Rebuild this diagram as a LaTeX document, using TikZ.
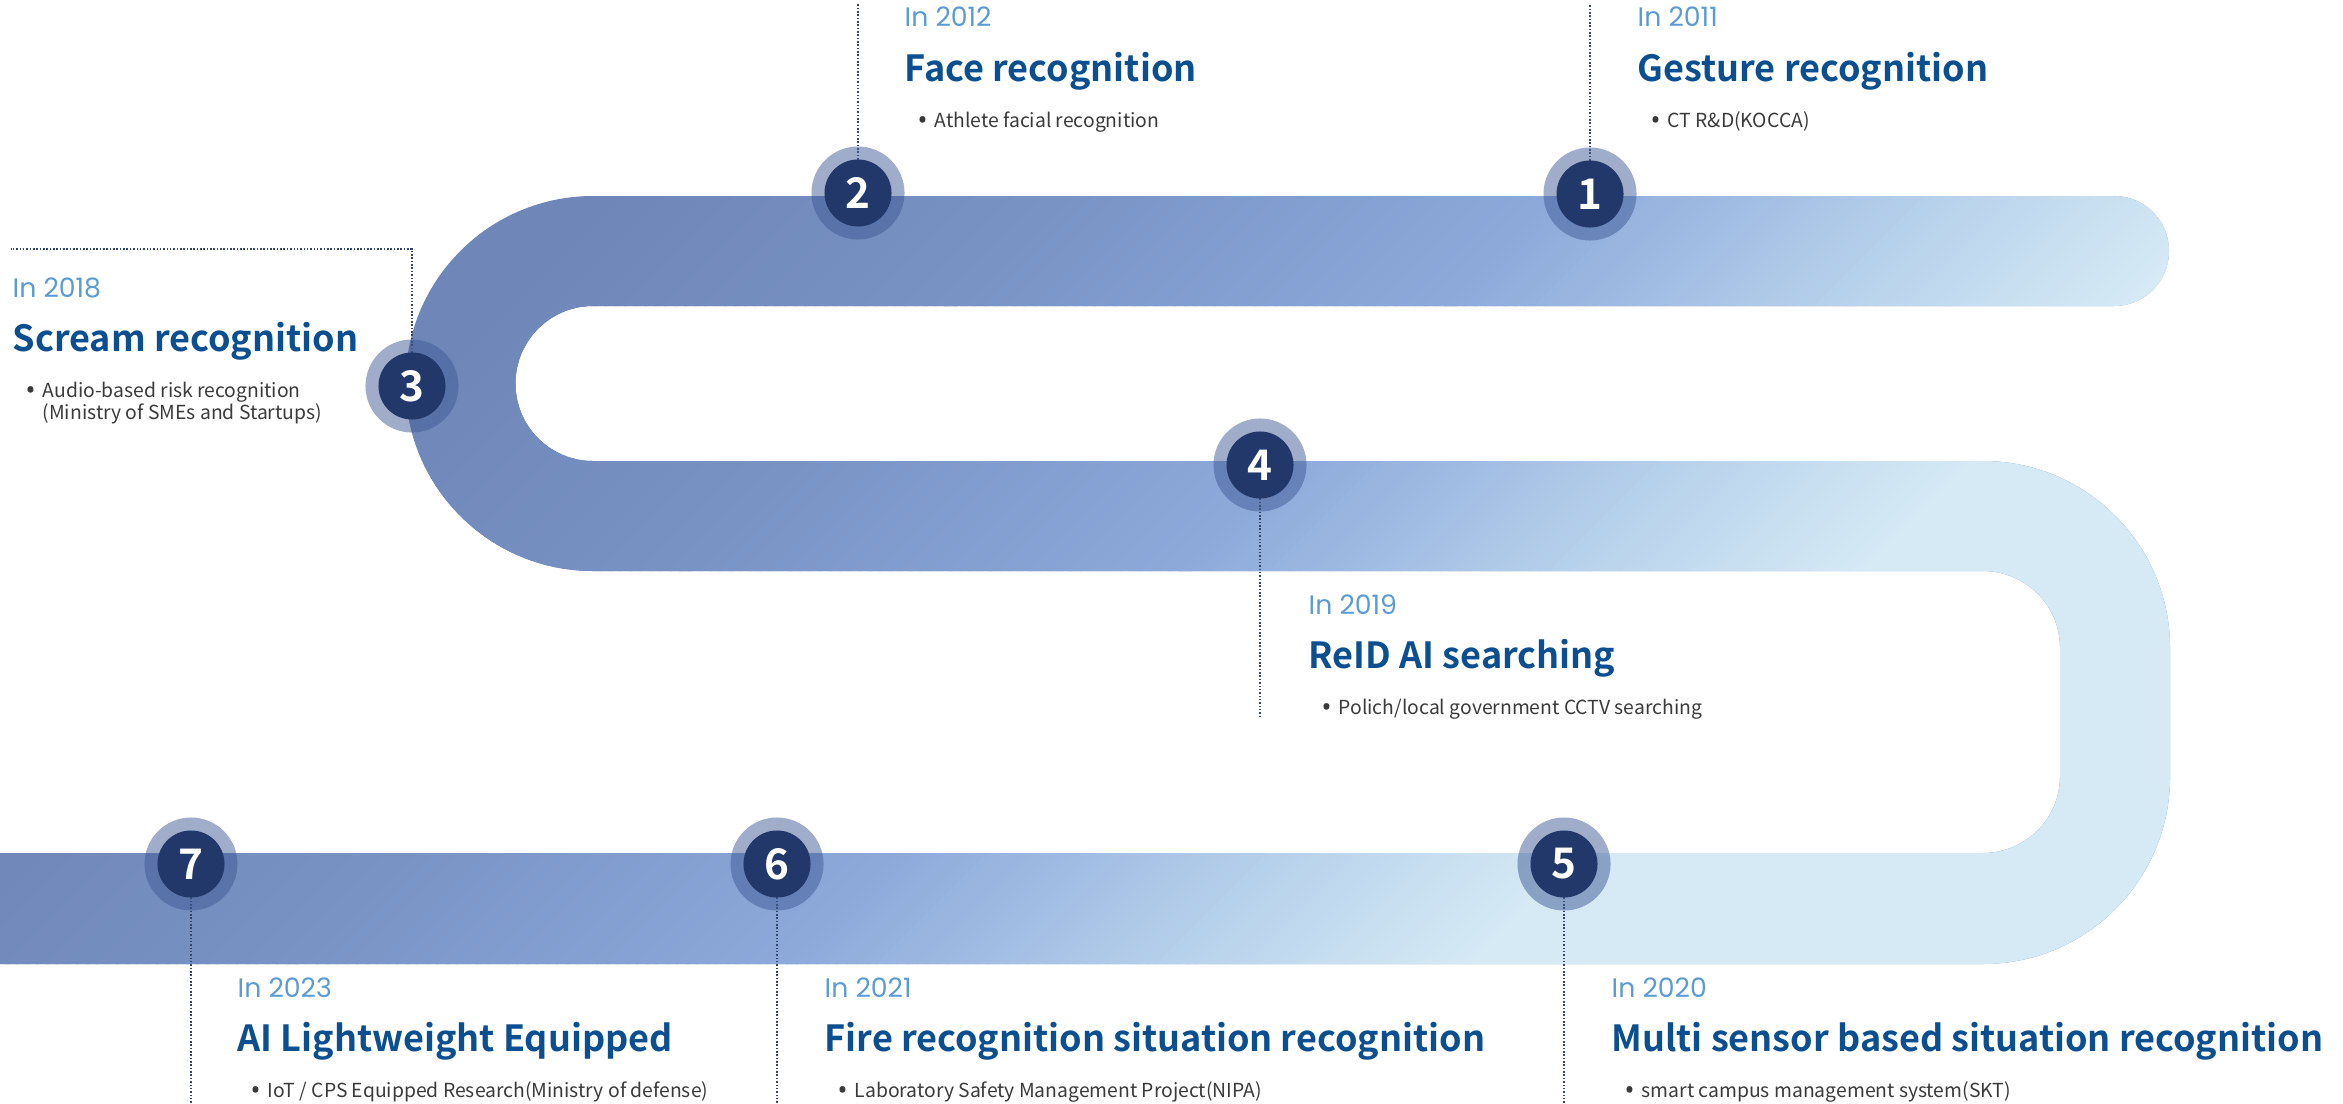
\documentclass[tikz,border=0pt]{standalone}
\usepackage{fontspec}
\usepackage{xcolor}
\usepackage{tikz}
\usetikzlibrary{positioning, backgrounds, calc}
\newfontfamily\headfont{Noto Sans CJK KR Bold}
\newfontfamily\bodyfont{Noto Sans CJK KR}
\newfontfamily\yearfont{Poppins}
\newfontfamily\dotfont{Noto Sans}
\definecolor{bandA}{HTML}{6F86B8}
\definecolor{bandB}{HTML}{7993C5}
\definecolor{bandC}{HTML}{8DAADB}
\definecolor{bandD}{HTML}{B9D3EC}
\definecolor{bandE}{HTML}{D5EAF5}
\definecolor{ringblue}{HTML}{3F5A95}
\definecolor{discnavy}{HTML}{22386A}
\definecolor{yearblue}{HTML}{5B9BD5}
\definecolor{headblue}{HTML}{0B4F91}
\definecolor{itemgray}{HTML}{3A3A3A}
\definecolor{leadgray}{HTML}{34456A}
\pgfdeclarelayer{track}
\pgfsetlayers{track,background,main}
\tikzset{
    ring/.style={circle, fill=ringblue, fill opacity=0.5, minimum size=0.93cm, inner sep=0pt},
    disc/.style={circle, fill=discnavy, text=white, minimum size=0.67cm, inner sep=0pt,
                 font=\headfont\fontsize{12}{12}\selectfont},
    leader/.style={draw=leadgray, line width=0.45pt, dash pattern=on 0.45pt off 0.5pt},
    yeartxt/.style={anchor=base west, inner sep=0pt, text=yearblue,
                    font=\yearfont\fontsize{7.6}{8}\selectfont},
    headtxt/.style={anchor=base west, inner sep=0pt, text=headblue,
                    font=\headfont\fontsize{10.25}{11}\selectfont},
    itemtxt/.style={anchor=base west, inner sep=0pt, text=itemgray,
                    font=\bodyfont\fontsize{5.5}{6}\selectfont},
}
% one stretch of the colour ramp along x+y
\newcommand\bandseg[4]{%
  \pgfmathtruncatemacro\segnext{#1+10}%
  \foreach \s in {#1,\segnext,...,#2}{%
    \pgfmathtruncatemacro\pct{(\s-#1)/(#2-#1)*100}%
    \fill[fill=#4!\pct!#3] (\s+10,-10) -- (\s+23,-10) -- (\s-1097,1110) -- (\s-1110,1110) -- cycle;
  }%
}
\newcommand\itemdot{\makebox[0.17cm][l]{\raisebox{-0.7pt}{\dotfont\fontsize{7.5}{7.5}\selectfont •}}}

\begin{document}
\begin{tikzpicture}[x=0.01cm, y=-0.01cm]
    \useasboundingbox (0,0) rectangle (2343,1103);

    % the winding track
    \begin{pgfonlayer}{track}
    \begin{scope}
        \clip (2114,196) arc[start angle=-90, end angle=90, radius=55]
            -- (593,306) arc[start angle=-90, end angle=-270, radius=77.5]
            -- (1983,461) arc[start angle=-90, end angle=0, radius=187]
            -- (2170,777) arc[start angle=0, end angle=90, radius=187]
            -- (-20,964) -- (-20,853) -- (1983,853)
            arc[start angle=90, end angle=0, radius=77]
            -- (2060,648) arc[start angle=0, end angle=-90, radius=77]
            -- (593,571) arc[start angle=90, end angle=270, radius=187.5]
            -- cycle;
        \fill[bandA] (-20,-20) rectangle (2400,1120);
        \bandseg{800}{1250}{bandA}{bandB}
        \bandseg{1250}{1750}{bandB}{bandC}
        \bandseg{1750}{2150}{bandC}{bandD}
        \bandseg{2150}{2430}{bandD}{bandE}
        \fill[bandE] (2440,-10) -- (3600,-10) -- (3600,1110) -- (1320,1110) -- cycle;
    \end{scope}
    \end{pgfonlayer}

    % milestones
    \node[ring] (r1) at (1590,194) {};
    \node[disc] (m1) at (r1) {1};
    \node[ring] (r2) at (858,193) {};
    \node[disc] (m2) at (r2) {2};
    \node[ring] (r3) at (412,386) {};
    \node[disc] (m3) at (r3) {3};
    \node[ring] (r4) at (1260,465) {};
    \node[disc] (m4) at (r4) {4};
    \node[ring] (r5) at (1564,864) {};
    \node[disc] (m5) at (r5) {5};
    \node[ring] (r6) at (777,864) {};
    \node[disc] (m6) at (r6) {6};
    \node[ring] (r7) at (191,864) {};
    \node[disc] (m7) at (r7) {7};

    \coordinate (top1) at (1590,4);
    \coordinate (top2) at (858,4);
    \coordinate (end3) at (11,249);
    \coordinate (end4) at (1260,716);
    \coordinate (end5) at (1564,1103);
    \coordinate (end6) at (777,1103);
    \coordinate (end7) at (191,1103);
    \begin{scope}[on background layer]
        \draw[leader] (m1.center) -- (top1);
        \draw[leader] (m2.center) -- (top2);
        \draw[leader] (m3.center) |- (end3);
        \draw[leader] (m4.center) -- (end4);
        \draw[leader] (m5.center) -- (end5);
        \draw[leader] (m6.center) -- (end6);
        \draw[leader] (m7.center) -- (end7);
    \end{scope}

    % 2011
    \node[yeartxt] (y2011) at (1637,27) {In 2011};
    \node[headtxt] (h2011) at ([yshift=-0.54cm]y2011.base west) {Gesture recognition};
    \node[itemtxt] (i2011) at ([xshift=0.13cm, yshift=-0.46cm]h2011.base west) {\itemdot CT R\&D(KOCCA)};
    % 2012
    \node[yeartxt] (y2012) at (904,27) {In 2012};
    \node[headtxt] (h2012) at ([yshift=-0.54cm]y2012.base west) {Face recognition};
    \node[itemtxt] (i2012) at ([xshift=0.13cm, yshift=-0.46cm]h2012.base west) {\itemdot Athlete facial recognition};
    % 2018
    \node[yeartxt] (y2018) at (12,297) {In 2018};
    \node[headtxt] (h2018) at ([yshift=-0.54cm]y2018.base west) {Scream recognition};
    \node[itemtxt] (i2018) at ([xshift=0.13cm, yshift=-0.46cm]h2018.base west) {\itemdot Audio-based risk recognition};
    \node[itemtxt] (j2018) at ([xshift=0.17cm, yshift=-0.225cm]i2018.base west) {(Ministry of SMEs and Startups)};
    % 2019
    \node[yeartxt] (y2019) at (1308,614) {In 2019};
    \node[headtxt] (h2019) at ([yshift=-0.54cm]y2019.base west) {ReID AI searching};
    \node[itemtxt] (i2019) at ([xshift=0.13cm, yshift=-0.46cm]h2019.base west) {\itemdot Polich/local government CCTV searching};
    % 2020
    \node[yeartxt] (y2020) at (1611,997) {In 2020};
    \node[headtxt] (h2020) at ([yshift=-0.54cm]y2020.base west) {Multi sensor based situation recognition};
    \node[itemtxt] (i2020) at ([xshift=0.13cm, yshift=-0.46cm]h2020.base west) {\itemdot smart campus management system(SKT)};
    % 2021
    \node[yeartxt] (y2021) at (824,997) {In 2021};
    \node[headtxt] (h2021) at ([yshift=-0.54cm]y2021.base west) {Fire recognition situation recognition};
    \node[itemtxt] (i2021) at ([xshift=0.13cm, yshift=-0.46cm]h2021.base west) {\itemdot Laboratory Safety Management Project(NIPA)};
    % 2023
    \node[yeartxt] (y2023) at (237,997) {In 2023};
    \node[headtxt] (h2023) at ([yshift=-0.54cm]y2023.base west) {AI Lightweight Equipped};
    \node[itemtxt] (i2023) at ([xshift=0.13cm, yshift=-0.46cm]h2023.base west) {\itemdot IoT / CPS Equipped Research(Ministry of defense)};
\end{tikzpicture}
\end{document}
